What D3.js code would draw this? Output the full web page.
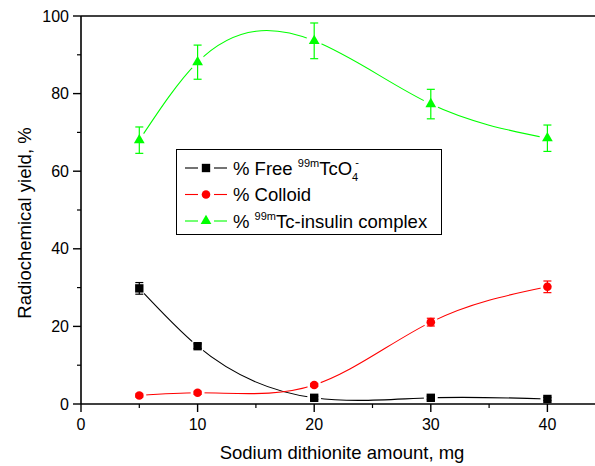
<!DOCTYPE html>
<html>
<head>
<meta charset="utf-8">
<script src="https://cdn.jsdelivr.net/npm/d3@7/dist/d3.min.js"></script>
<style>
  body { margin: 0; background: #fff; }
  svg { display: block; font-family: Arial, "Liberation Sans", sans-serif; }
</style>
</head>
<body>
<svg id="chart" width="595" height="466"></svg>
<script>
// data
const amounts = [5, 10, 20, 30, 40];
const freeTc = [29.8, 14.9, 1.6, 1.6, 1.3];
const freeTcErr = [1.5, 0.6, 0.4, 0.4, 0.4];
const colloid = [2.2, 2.9, 4.9, 21.1, 30.2];
const colloidErr = [0.4, 0.4, 0.4, 1.0, 1.5];
const complex = [68.0, 88.1, 93.6, 77.3, 68.5];
const complexErr = [3.4, 4.4, 4.6, 3.8, 3.4];
const xTicks = [0, 10, 20, 30, 40];
const yTicks = [0, 20, 40, 60, 80, 100];

const W = 595, H = 466;
const margin = { left: 81, top: 16, bottom: 62 };

// natural cubic spline y(x) (like Origin's "spline" connect), as a d3 curve
function SplineX(context) { this._context = context; }
SplineX.prototype = {
  areaStart() { this._line = 0; },
  areaEnd() { this._line = NaN; },
  lineStart() { this._xs = []; this._ys = []; },
  point(px, py) { this._xs.push(+px); this._ys.push(+py); },
  lineEnd() {
    const xs = this._xs, ys = this._ys, n = xs.length, ctx = this._context;
    if (!n) return;
    ctx.moveTo(xs[0], ys[0]);
    if (n < 3) { for (let i = 1; i < n; i++) ctx.lineTo(xs[i], ys[i]); return; }
    const h = [], M = new Array(n).fill(0);
    for (let i = 0; i < n - 1; i++) h.push(xs[i + 1] - xs[i]);
    // tridiagonal solve for second derivatives (natural ends)
    const a = [], b = [], c = [], r = [];
    for (let i = 1; i < n - 1; i++) {
      a.push(h[i - 1]); b.push(2 * (h[i - 1] + h[i])); c.push(h[i]);
      r.push(6 * ((ys[i + 1] - ys[i]) / h[i] - (ys[i] - ys[i - 1]) / h[i - 1]));
    }
    const m = r.length;
    for (let i = 1; i < m; i++) {
      const w = a[i] / b[i - 1];
      b[i] -= w * c[i - 1];
      r[i] -= w * r[i - 1];
    }
    const sol = new Array(m);
    sol[m - 1] = r[m - 1] / b[m - 1];
    for (let i = m - 2; i >= 0; i--) sol[i] = (r[i] - c[i] * sol[i + 1]) / b[i];
    for (let i = 0; i < m; i++) M[i + 1] = sol[i];
    for (let i = 0; i < n - 1; i++) {
      const s = (ys[i + 1] - ys[i]) / h[i];
      const d0 = s - h[i] * (2 * M[i] + M[i + 1]) / 6;
      const d1 = s + h[i] * (M[i] + 2 * M[i + 1]) / 6;
      ctx.bezierCurveTo(
        xs[i] + h[i] / 3, ys[i] + d0 * h[i] / 3,
        xs[i + 1] - h[i] / 3, ys[i + 1] - d1 * h[i] / 3,
        xs[i + 1], ys[i + 1]);
    }
  }
};
const curveSplineX = context => new SplineX(context);

const svg = d3.select("#chart");

const x = d3.scaleLinear().domain([0, 45]).range([margin.left, margin.left + 45 * 11.66]);
const y = d3.scaleLinear().domain([0, 100]).range([H - margin.bottom, margin.top]);

const series = [
  { id: "free", values: freeTc, err: freeTcErr, color: "#000000", shape: "square", gap: 7 },
  { id: "colloid", values: colloid, err: colloidErr, color: "#ff0000", shape: "circle", gap: 7 },
  { id: "complex", values: complex, err: complexErr, color: "#00ff00", shape: "triangle", gap: 8 }
];

const symbolFor = shape => {
  if (shape === "square") return d3.symbol().type(d3.symbolSquare).size(70);
  if (shape === "circle") return d3.symbol().type(d3.symbolCircle).size(58);
  return d3.symbol().type(d3.symbolTriangle).size(50);
};

// masks so the curve stops short of each marker
const defs = svg.append("defs");
series.forEach(s => {
  const m = defs.append("mask").attr("id", "mask-" + s.id)
    .attr("maskUnits", "userSpaceOnUse")
    .attr("x", 0).attr("y", 0).attr("width", W).attr("height", H);
  m.append("rect").attr("width", W).attr("height", H).attr("fill", "#fff");
  m.selectAll("circle").data(amounts).enter().append("circle")
    .attr("cx", d => x(d))
    .attr("cy", (d, i) => y(s.values[i]))
    .attr("r", s.gap)
    .attr("fill", "#000");
});

// axes
const xAxis = svg.append("g").attr("transform", `translate(0,${y(0)})`);
xAxis.append("line").attr("x1", x(0)).attr("x2", W).attr("stroke", "#000").attr("stroke-width", 1.6);
xAxis.selectAll("line.major").data(xTicks).enter().append("line")
  .attr("class", "major")
  .attr("x1", d => x(d)).attr("x2", d => x(d)).attr("y1", 0).attr("y2", 8)
  .attr("stroke", "#000").attr("stroke-width", 1.4);
xAxis.selectAll("line.minor").data([5, 15, 25, 35]).enter().append("line")
  .attr("class", "minor")
  .attr("x1", d => x(d)).attr("x2", d => x(d)).attr("y1", 0).attr("y2", 4)
  .attr("stroke", "#000").attr("stroke-width", 1.2);
xAxis.selectAll("text").data(xTicks).enter().append("text")
  .attr("x", d => x(d)).attr("y", 26)
  .attr("text-anchor", "middle")
  .attr("font-size", 16)
  .text(d => d);

const yAxis = svg.append("g").attr("transform", `translate(${x(0)},0)`);
yAxis.append("line").attr("y1", y(0)).attr("y2", y(100)).attr("stroke", "#000").attr("stroke-width", 1.6);
yAxis.selectAll("line.major").data(yTicks).enter().append("line")
  .attr("class", "major")
  .attr("x1", 0).attr("x2", -8).attr("y1", d => y(d)).attr("y2", d => y(d))
  .attr("stroke", "#000").attr("stroke-width", 1.4);
yAxis.selectAll("line.minor").data([10, 30, 50, 70, 90]).enter().append("line")
  .attr("class", "minor")
  .attr("x1", 0).attr("x2", -4).attr("y1", d => y(d)).attr("y2", d => y(d))
  .attr("stroke", "#000").attr("stroke-width", 1.2);
yAxis.selectAll("text").data(yTicks).enter().append("text")
  .attr("x", -12).attr("y", d => y(d)).attr("dy", "0.35em")
  .attr("text-anchor", "end")
  .attr("font-size", 16)
  .text(d => d);

// top frame line
svg.append("line")
  .attr("x1", x(0)).attr("x2", W).attr("y1", y(100)).attr("y2", y(100))
  .attr("stroke", "#000").attr("stroke-width", 1.6);

// axis titles
svg.append("text")
  .attr("x", 342).attr("y", 459)
  .attr("text-anchor", "middle").attr("font-size", 18.5)
  .text("Sodium dithionite amount, mg");
svg.append("text")
  .attr("transform", "translate(31,223) rotate(-90)")
  .attr("text-anchor", "middle").attr("font-size", 18.5)
  .text("Radiochemical yield, %");

// curves
const line = d3.line()
  .x(d => x(d[0]))
  .y(d => y(d[1]))
  .curve(curveSplineX);

series.forEach(s => {
  const pts = amounts.map((a, i) => [a, s.values[i]]);
  const g = svg.append("g").attr("class", "series " + s.id);

  g.append("path")
    .attr("d", line(pts))
    .attr("fill", "none")
    .attr("stroke", s.color)
    .attr("stroke-width", 1.1)
    .attr("mask", `url(#mask-${s.id})`);

  // error bars
  const eb = g.selectAll("g.err").data(pts).enter().append("g").attr("class", "err");
  eb.append("line")
    .attr("x1", d => x(d[0])).attr("x2", d => x(d[0]))
    .attr("y1", (d, i) => y(d[1] - s.err[i])).attr("y2", (d, i) => y(d[1] + s.err[i]))
    .attr("stroke", s.color).attr("stroke-width", 1.2);
  [-1, 1].forEach(sign => {
    eb.append("line")
      .attr("x1", d => x(d[0]) - 4).attr("x2", d => x(d[0]) + 4)
      .attr("y1", (d, i) => y(d[1] + sign * s.err[i]))
      .attr("y2", (d, i) => y(d[1] + sign * s.err[i]))
      .attr("stroke", s.color).attr("stroke-width", 1.2);
  });

  g.selectAll("path.marker").data(pts).enter().append("path")
    .attr("class", "marker")
    .attr("d", symbolFor(s.shape))
    .attr("transform", d => `translate(${x(d[0])},${y(d[1])})`)
    .attr("fill", s.color);
});

// legend
const legend = svg.append("g").attr("class", "legend");
legend.append("rect")
  .attr("x", 176.5).attr("y", 149.5).attr("width", 265).attr("height", 85)
  .attr("fill", "#fff").attr("stroke", "#000").attr("stroke-width", 1);

const legendRows = [168, 194.5, 221];
series.forEach((s, i) => {
  const ly = legendRows[i];
  const row = legend.append("g");
  row.append("line").attr("x1", 185).attr("x2", 198).attr("y1", ly).attr("y2", ly)
    .attr("stroke", s.color).attr("stroke-width", 1.1);
  row.append("line").attr("x1", 214).attr("x2", 227).attr("y1", ly).attr("y2", ly)
    .attr("stroke", s.color).attr("stroke-width", 1.1);
  row.append("path")
    .attr("d", symbolFor(s.shape))
    .attr("transform", `translate(206,${ly})`)
    .attr("fill", s.color);
});

const t1 = legend.append("text").attr("x", 233).attr("y", legendRows[0] + 6.5).attr("font-size", 18.5);
t1.append("tspan").text("% Free ");
t1.append("tspan").attr("font-size", 11).attr("dy", -8).text("99m");
t1.append("tspan").attr("dy", 8).text("TcO");
t1.append("tspan").attr("font-size", 11).attr("dy", 6).text("4");
t1.append("tspan").attr("font-size", 11).attr("dx", -3).attr("dy", -15).text("-");

legend.append("text").attr("x", 233).attr("y", legendRows[1] + 6.5).attr("font-size", 18.5)
  .text("% Colloid");

const t3 = legend.append("text").attr("x", 233).attr("y", legendRows[2] + 6.5).attr("font-size", 18.5);
t3.append("tspan").text("% ");
t3.append("tspan").attr("font-size", 11).attr("dy", -8).text("99m");
t3.append("tspan").attr("dy", 8).text("Tc-insulin complex");
</script>
</body>
</html>
